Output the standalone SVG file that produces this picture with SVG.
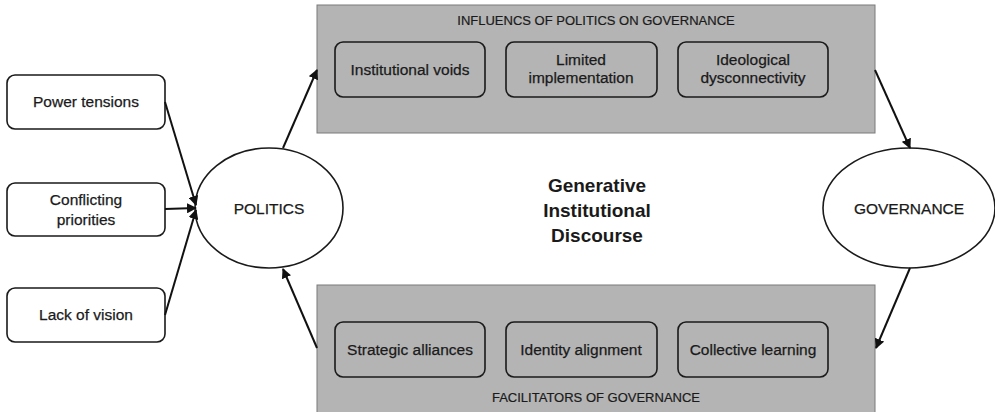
<svg xmlns="http://www.w3.org/2000/svg" width="995" height="412" viewBox="0 0 995 412">
  <defs>
    <marker id="arrow" viewBox="0 0 10 10" refX="9" refY="5" markerWidth="5" markerHeight="5" orient="auto">
      <path d="M0,0 L10,5 L0,10 z" fill="#111"/>
    </marker>
    <style>
      text { font-family: "Liberation Sans", Arial, sans-serif; fill: #1a1a1a; text-anchor: middle; }
      .panel { fill: #b4b4b4; stroke: #7a7a7a; stroke-width: 1; }
      .box { fill: #ffffff; stroke: #1a1a1a; stroke-width: 1.6; }
      .gbox { fill: #b4b4b4; stroke: #1a1a1a; stroke-width: 1.6; }
      .oval { fill: #ffffff; stroke: #1a1a1a; stroke-width: 1.6; }
      .lbl { font-size: 15.5px; stroke: #1a1a1a; stroke-width: 0.25px; }
      .cap { font-size: 13px; stroke: #1a1a1a; stroke-width: 0.2px; }
      .core { font-size: 19px; font-weight: bold; }
      .conn line { stroke: #111; stroke-width: 2; marker-end: url(#arrow); }
    </style>
  </defs>
  <rect width="995" height="412" fill="#ffffff"/>

  <!-- upper panel: influences -->
  <g id="influences">
    <rect class="panel" x="317" y="5" width="558" height="128"/>
    <text class="cap" x="596" y="25">INFLUENCS OF POLITICS ON GOVERNANCE</text>
    <g id="institutional-voids">
      <rect class="gbox" x="335" y="42" width="150" height="55" rx="8"/>
      <text class="lbl" x="410" y="75">Institutional voids</text>
    </g>
    <g id="limited-implementation">
      <rect class="gbox" x="506" y="42" width="151" height="55" rx="8"/>
      <text class="lbl" x="581" y="65">Limited</text>
      <text class="lbl" x="581" y="83">implementation</text>
    </g>
    <g id="ideological-dysconnectivity">
      <rect class="gbox" x="678" y="42" width="150" height="55" rx="8"/>
      <text class="lbl" x="753" y="65">Ideological</text>
      <text class="lbl" x="753" y="83">dysconnectivity</text>
    </g>
  </g>

  <!-- lower panel: facilitators -->
  <g id="facilitators">
    <rect class="panel" x="317" y="285" width="558" height="132"/>
    <text class="cap" x="596" y="402">FACILITATORS OF GOVERNANCE</text>
    <g id="strategic-alliances">
      <rect class="gbox" x="335" y="322" width="150" height="55" rx="8"/>
      <text class="lbl" x="410" y="355">Strategic alliances</text>
    </g>
    <g id="identity-alignment">
      <rect class="gbox" x="506" y="322" width="151" height="55" rx="8"/>
      <text class="lbl" x="581" y="355">Identity alignment</text>
    </g>
    <g id="collective-learning">
      <rect class="gbox" x="678" y="322" width="150" height="55" rx="8"/>
      <text class="lbl" x="753" y="355">Collective learning</text>
    </g>
  </g>

  <!-- drivers of politics -->
  <g id="power-tensions">
    <rect class="box" x="7" y="75" width="158" height="54" rx="8"/>
    <text class="lbl" x="86" y="107">Power tensions</text>
  </g>
  <g id="conflicting-priorities">
    <rect class="box" x="7" y="183" width="158" height="53" rx="8"/>
    <text class="lbl" x="86" y="205">Conflicting</text>
    <text class="lbl" x="86" y="225">priorities</text>
  </g>
  <g id="lack-of-vision">
    <rect class="box" x="7" y="288" width="158" height="54" rx="8"/>
    <text class="lbl" x="86" y="320">Lack of vision</text>
  </g>

  <g id="politics">
    <ellipse class="oval" cx="269" cy="208" rx="74" ry="60"/>
    <text class="lbl" x="269" y="214">POLITICS</text>
  </g>

  <g id="governance">
    <ellipse class="oval" cx="909" cy="208" rx="86" ry="60"/>
    <text class="lbl" x="909" y="214">GOVERNANCE</text>
  </g>

  <g id="discourse">
    <text class="core" x="597" y="192">Generative</text>
    <text class="core" x="597" y="217">Institutional</text>
    <text class="core" x="597" y="242">Discourse</text>
  </g>

  <g id="connectors" class="conn">
    <line x1="165" y1="102" x2="196" y2="205"/>
    <line x1="165" y1="209" x2="196" y2="208"/>
    <line x1="165" y1="315" x2="196" y2="210"/>
    <line x1="283" y1="148" x2="317" y2="70"/>
    <line x1="875" y1="70" x2="910" y2="148"/>
    <line x1="910" y1="268" x2="876" y2="348"/>
    <line x1="317" y1="348" x2="283" y2="269"/>
  </g>
</svg>
